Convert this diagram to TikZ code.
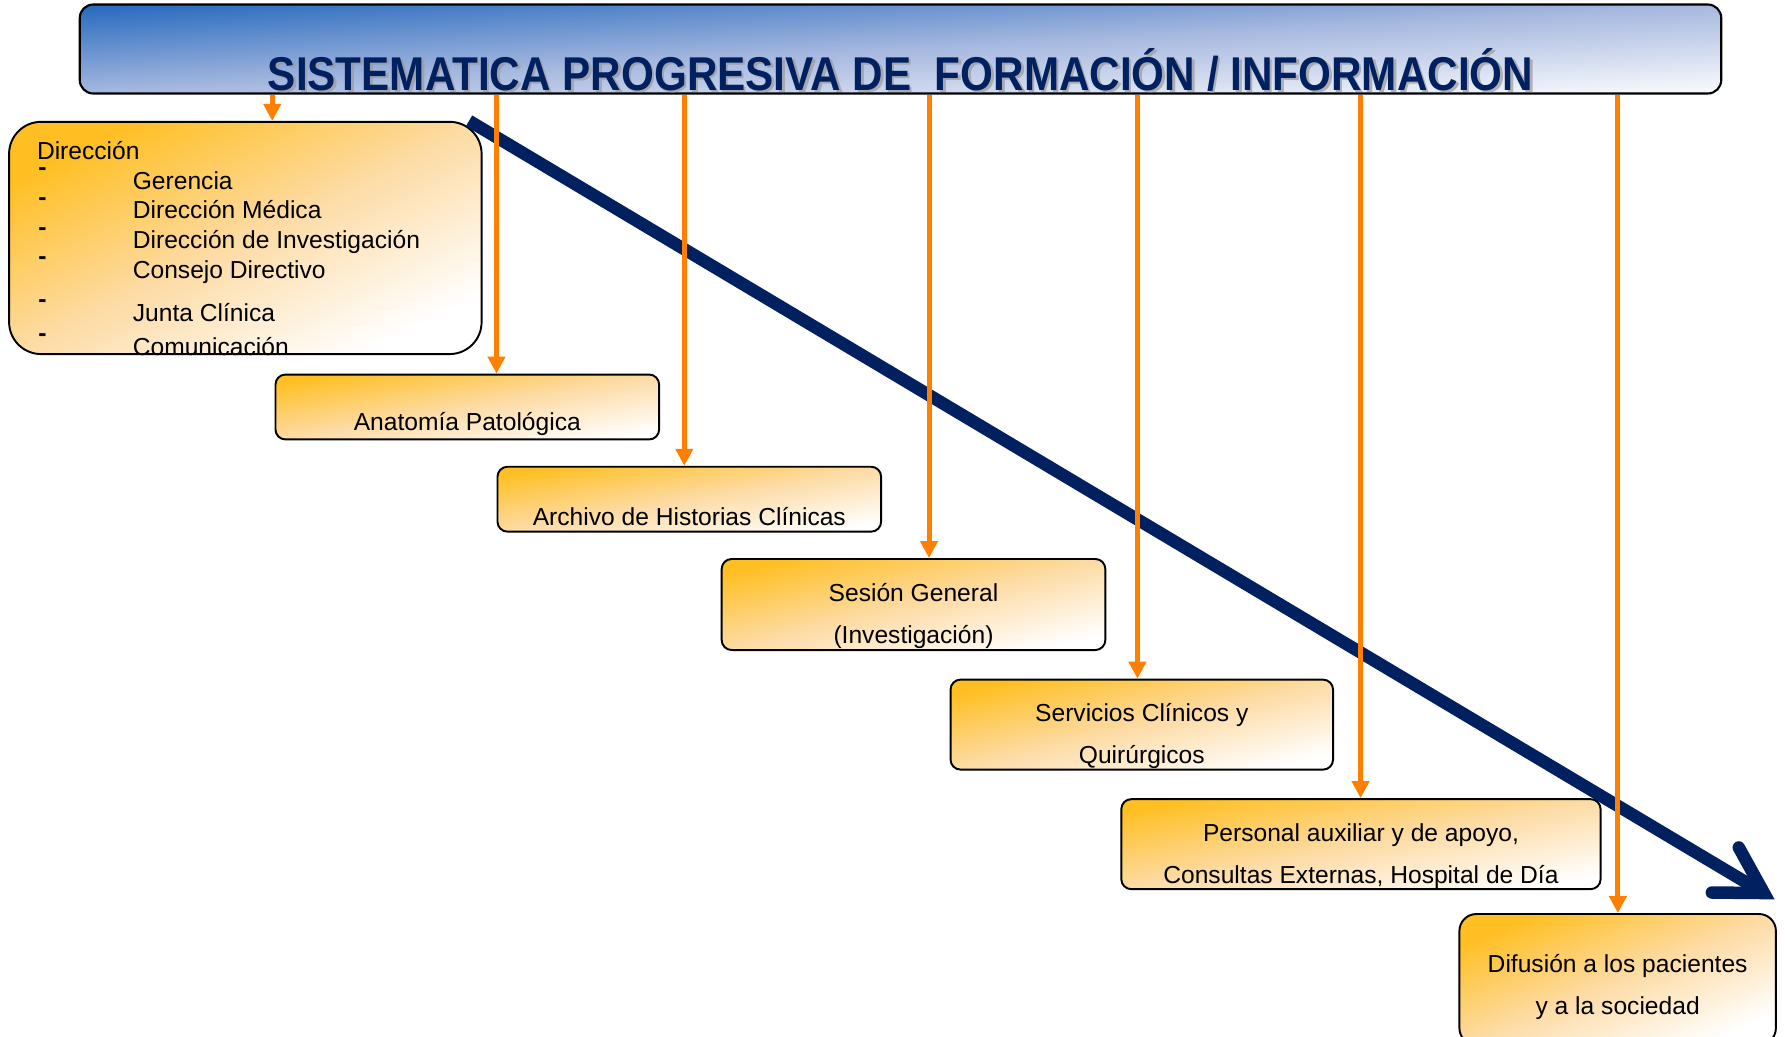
\documentclass[tikz,border=0pt]{standalone}
\usepackage{fontspec}
\setmainfont{Liberation Sans}
\usetikzlibrary{positioning}
\usetikzlibrary{calc}
\usetikzlibrary{arrows.meta}
\definecolor{azul_1}{HTML}{002060}
\definecolor{azul_3}{HTML}{2C6DC0}
\definecolor{azul_4}{HTML}{A6B8DF}
\definecolor{azul_5}{HTML}{F6F8FC}
\definecolor{oro_1}{HTML}{FFBF22}
\definecolor{oro_3}{HTML}{FDDBA4}
\definecolor{naranja_1}{HTML}{FF8000}

\begin{document}
\begin{tikzpicture}[
  cabecera/.style={draw, rectangle, rounded corners=0.27cm, line width=1.2pt, top color=azul_3, bottom color=azul_5, middle color=azul_4, shading angle=3.1},
  caja/.style={draw, rectangle, rounded corners=0.2cm, line width=1.1pt, top color=oro_1, bottom color=white, middle color=oro_3, shading angle=#1},
  texto/.style={font=\fontsize{14}{24}\selectfont, align=center, inner sep=0pt},
  guion/.style={font=\fontsize{14}{24}\selectfont\bfseries, inner sep=0pt, anchor=base},
  titulo/.style={font=\fontsize{27}{30}\selectfont\bfseries, inner sep=0pt, anchor=base},
  flecha/.style={naranja_1, line width=0.1cm, -{Triangle[length=0.34cm,width=0.34cm]}},
  progreso/.style={azul_1, line width=0.25cm, -{Straight Barb[length=0.9cm,width=1.05cm,line cap=round]}}
]
\clip (0cm,0cm) rectangle (35.7cm,-20.72cm);

\node[cabecera, minimum width=32.83cm, minimum height=1.78cm] (cabecera) at (18.01cm,-0.98cm) {};
\node[titulo, gray!80, opacity=0.7] (sombra) at ($ (cabecera.south) + (0.05cm,0.09cm-0.05cm) $) {\scalebox{0.89}[1]{SISTEMATICA PROGRESIVA DE\ \ FORMACIÓN / INFORMACIÓN}};
\node[titulo, azul_1] (titulo) at ($ (cabecera.south) + (0cm,0.09cm) $) {\scalebox{0.89}[1]{SISTEMATICA PROGRESIVA DE\ \ FORMACIÓN / INFORMACIÓN}};

\node[caja=26.2, rounded corners=0.64cm, minimum width=9.45cm, minimum height=4.645cm] (direccion) at (4.907cm,-4.759cm) {};
\node[caja=9.6, minimum width=7.673cm, minimum height=1.298cm] (anatomia) at (9.346cm,-8.140cm) {};
\node[caja=9.6, minimum width=7.673cm, minimum height=1.298cm] (archivo) at (13.786cm,-9.984cm) {};
\node[caja=13.3, minimum width=7.673cm, minimum height=1.821cm] (sesion) at (18.27cm,-12.09cm) {};
\node[caja=13.2, minimum width=7.65cm, minimum height=1.80cm] (servicios) at (22.836cm,-14.492cm) {};
\node[caja=10.6, minimum width=9.586cm, minimum height=1.80cm] (personal) at (27.219cm,-16.883cm) {};
\node[caja=22.5, rounded corners=0.34cm, minimum width=6.33cm, minimum height=2.62cm] (difusion) at (32.353cm,-19.59cm) {};

\node[texto, anchor=base west] (direcciontexto) at (0.733cm,-3.199cm) {Dirección};
\foreach \i/\y/\nombre in {1/-3.780/Gerencia, 2/-4.371/Dirección Médica, 3/-4.975/Dirección de Investigación, 4/-5.567/Consejo Directivo, 5/-6.421/Junta Clínica, 6/-7.104/Comunicación} {
  \node[texto, anchor=base west] (item\i) at (2.65cm,\y cm) {\nombre};
  \node[guion] (guion\i) at (0.85cm,\y cm+0.27cm) {-};
}

\node[texto] (anatomiatexto) at ($ (anatomia) + (0cm,-0.345cm) $) {Anatomía Patológica};
\node[texto] (archivotexto) at ($ (archivo) + (0cm,-0.35cm) $) {Archivo de Historias Clínicas};
\node[texto] (sesiontexto) at ($ (sesion) + (0cm,-0.23cm) $) {Sesión General\\(Investigación)};
\node[texto] (serviciostexto) at ($ (servicios) + (0cm,-0.23cm) $) {Servicios Clínicos y\\Quirúrgicos};
\node[texto] (personaltexto) at ($ (personal) + (0cm,-0.24cm) $) {Personal auxiliar y de apoyo,\\Consultas Externas, Hospital de Día};
\node[texto] (difusiontexto) at ($ (difusion.north) + (0cm,-1.48cm) $) {Difusión a los pacientes\\y a la sociedad};

\draw[progreso] ($ (direccion.north east) + (-0.27cm,0cm) $) -- ($ (difusion.north east) + (-0.045cm,0.273cm) $);

\foreach \caja/\dx in {direccion/5.282, anatomia/4.44, archivo/3.756, sesion/4.166, servicios/3.757, personal/4.805, difusion/3.188} {
  \coordinate (f\caja) at ($ (\caja.north west) + (\dx cm,0cm) $);
  \draw[flecha] (cabecera.south -| f\caja) -- (f\caja);
}
\end{tikzpicture}
\end{document}
